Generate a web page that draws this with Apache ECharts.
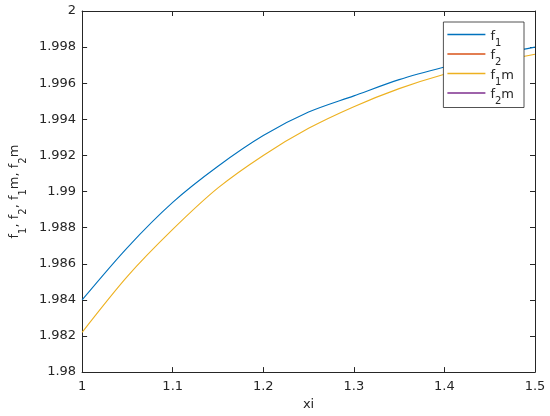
<!DOCTYPE html>
<html>
<head>
<meta charset="utf-8">
<script src="https://cdn.jsdelivr.net/npm/echarts@6/dist/echarts.min.js"></script>
<style>html,body{margin:0;padding:0;background:#fff;}#c{width:550px;height:416px;}</style>
</head>
<body>
<div id="c"></div>
<script>
const xi = [1.0, 1.05, 1.1, 1.15, 1.2, 1.25, 1.3, 1.35, 1.4, 1.45, 1.5];
const f1 = [1.9840, 1.9869, 1.9894, 1.9914, 1.9931, 1.9944, 1.9953, 1.9962, 1.9969, 1.9975, 1.9980];
const f2 = [];
const f1m = [1.9822, 1.9853, 1.9879, 1.9902, 1.9920, 1.9935, 1.9947, 1.9957, 1.9965, 1.9971, 1.9976];
const f2m = [];
const seriesNames = ['f1', 'f2', 'f1m', 'f2m'];
const yTicks = [1.98, 1.982, 1.984, 1.986, 1.988, 1.99, 1.992, 1.994, 1.996, 1.998, 2];
const xTicks = [1, 1.1, 1.2, 1.3, 1.4, 1.5];

const pair = (xs, ys) => ys.map((v, i) => [xs[i], v]);
const FONT = 'DejaVu Sans';
const AX = '#262626';
const colors = ['#0072BD', '#D95319', '#EDB120', '#7E2F8E'];
const dataSets = [f1, f2, f1m, f2m];

function subRich(name) {
  const m = name.match(/^f(\d)(.*)$/);
  return '{t|f}{s|' + m[1] + '}' + (m[2] ? '{t|' + m[2] + '}' : '');
}
const rich = {
  t: { fontFamily: FONT, fontSize: 13, color: AX, verticalAlign: 'bottom', lineHeight: 17 },
  s: { fontFamily: FONT, fontSize: 10, color: AX, verticalAlign: 'bottom', lineHeight: 17, padding: [0, 0, -5, 0] }
};
const fmt = v => String(Number(v.toFixed(4)));

const chart = echarts.init(document.getElementById('c'), null, { renderer: 'canvas' });
chart.setOption({
  animation: false,
  backgroundColor: '#fff',
  color: colors,
  grid: { left: 74, right: 15, top: 11, bottom: 41, containLabel: false },
  legend: {
    right: 26, top: 22,
    orient: 'vertical',
    data: seriesNames,
    icon: 'path://M0,0 L38,0 L38,1.3 L0,1.3 Z',
    symbolKeepAspect: true,
    itemWidth: 38, itemHeight: 14,
    itemGap: 1.5,
    borderColor: AX, borderWidth: 0.8,
    backgroundColor: '#fff',
    padding: [8, 10, 1, 4],
    borderRadius: 0,
    formatter: name => subRich(name),
    textStyle: { rich: rich, fontFamily: FONT, fontSize: 13, color: AX }
  },
  xAxis: [{
    type: 'value', min: 1, max: 1.5, interval: 0.1,
    name: 'xi', nameLocation: 'middle', nameGap: 19,
    nameTextStyle: { fontFamily: FONT, fontSize: 13, color: AX },
    axisLine: { show: true, lineStyle: { color: AX, width: 1 } },
    axisTick: { show: true, inside: true, length: 5, lineStyle: { color: AX } },
    axisLabel: { fontFamily: FONT, fontSize: 13, color: AX, margin: 8, formatter: fmt },
    splitLine: { show: false }
  }, {
    type: 'value', min: 1, max: 1.5, interval: 0.1, position: 'top',
    axisLine: { show: true, lineStyle: { color: AX, width: 1 } },
    axisTick: { show: true, inside: true, length: 5, lineStyle: { color: AX } },
    axisLabel: { show: false }, splitLine: { show: false }
  }],
  yAxis: [{
    type: 'value', min: 1.98, max: 2, interval: 0.002,
    name: 'f{s|1}, f{s|2}, f{s|1}m, f{s|2}m', nameLocation: 'middle', nameGap: 50,
    nameTextStyle: { fontFamily: FONT, fontSize: 13, color: AX, rich: rich },
    axisLine: { show: true, lineStyle: { color: AX, width: 1 } },
    axisTick: { show: true, inside: true, length: 5, lineStyle: { color: AX } },
    axisLabel: { fontFamily: FONT, fontSize: 13, color: AX, margin: 6, formatter: fmt },
    splitLine: { show: false }
  }, {
    type: 'value', min: 1.98, max: 2, interval: 0.002, position: 'right',
    axisLine: { show: true, lineStyle: { color: AX, width: 1 } },
    axisTick: { show: true, inside: true, length: 5, lineStyle: { color: AX } },
    axisLabel: { show: false }, splitLine: { show: false }
  }],
  series: seriesNames.map((n, i) => ({
    name: n, type: 'line', xAxisIndex: 0, yAxisIndex: 0,
    data: pair(xi, dataSets[i]),
    showSymbol: false, symbol: 'none', smooth: 0.3,
    lineStyle: { width: 1.1, color: colors[i] },
    itemStyle: { color: colors[i] }
  }))
});
</script>
</body>
</html>
